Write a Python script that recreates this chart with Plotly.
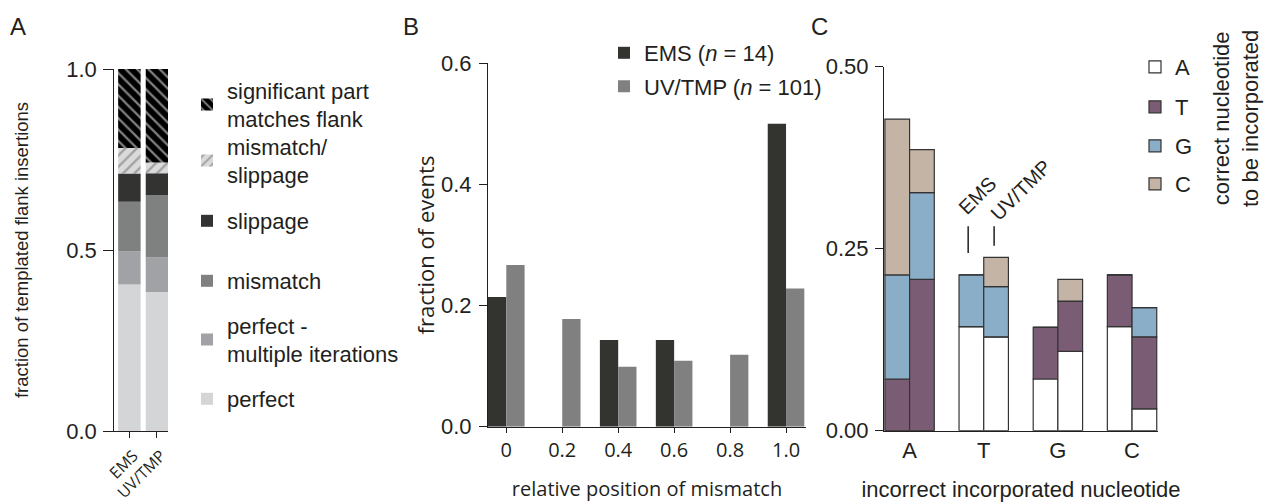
import plotly.graph_objects as go

W, H = 1272, 502


def px(x):
    return x / W


def py(y):
    return 1 - y / H


# ---------------- data ----------------
# Panel A: fraction of templated flank insertions
a_groups = ["EMS", "UV/TMP"]
a_perfect = [0.405, 0.384]
a_perfect_multi = [0.091, 0.095]
a_mismatch = [0.137, 0.173]
a_slippage = [0.078, 0.060]
a_mm_slip = [0.071, 0.030]
a_significant = [0.218, 0.258]

# Panel B: relative position of mismatch
b_positions = [0, 0.2, 0.4, 0.6, 0.8, 1.0]
b_tick_labels = ["0", "0.2", "0.4", "0.6", "0.8", "1.0"]
b_ems = [0.214, 0.0, 0.143, 0.143, 0.0, 0.500]
b_uv = [0.267, 0.178, 0.099, 0.109, 0.119, 0.228]

# Panel C: incorrect incorporated nucleotide (stacked by correct nucleotide)
c_incorrect = ["A", "T", "G", "C"]
c_ems_A = [0.0, 0.143, 0.071, 0.143]
c_ems_T = [0.071, 0.0, 0.071, 0.071]
c_ems_G = [0.143, 0.071, 0.0, 0.0]
c_ems_C = [0.214, 0.0, 0.0, 0.0]
c_uv_A = [0.0, 0.129, 0.109, 0.030]
c_uv_T = [0.208, 0.0, 0.069, 0.099]
c_uv_G = [0.119, 0.069, 0.0, 0.040]
c_uv_C = [0.059, 0.040, 0.030, 0.0]

# ---------------- style ----------------
ARIAL = "Liberation Sans, Arial, sans-serif"
MYRIAD = "Open Sans, sans-serif"
INK = "#231f20"

fig = go.Figure()

# ---------- Panel A ----------
a_series = [
    ("perfect", a_perfect, dict(color="#d3d5d6"), 398),
    ("perfect -<br>multiple iterations", a_perfect_multi, dict(color="#a1a2a6"), 339),
    ("mismatch", a_mismatch, dict(color="#7f8080"), 280),
    ("slippage", a_slippage, dict(color="#333331"), 220),
    ("mismatch/<br>slippage", a_mm_slip,
     dict(color="#dadada", pattern=dict(shape="/", bgcolor="#dadada", fgcolor="#6a6a6a",
                                        size=8, solidity=0.3)), 160),
    ("significant part<br>matches flank", a_significant,
     dict(color="#000000", pattern=dict(shape="\\", bgcolor="#000000", fgcolor="#ffffff",
                                        size=8, solidity=0.28)), 104),
]

legend_layouts = {}
leg_i = 0


def next_legend(text_x, center_y):
    global leg_i
    leg_i += 1
    key = "legend" if leg_i == 1 else f"legend{leg_i}"
    legend_layouts[key] = dict(
        x=px(text_x - 41), y=py(center_y + 1), xanchor="left", yanchor="middle",
        bgcolor="rgba(0,0,0,0)", borderwidth=0,
        font=dict(family=ARIAL, size=22, color=INK),
    )
    return key


base = [0.0, 0.0]
for name, vals, marker, ly in a_series:
    m = dict(marker)
    m["line"] = dict(width=0)
    fig.add_trace(go.Bar(
        x=a_groups, y=vals, base=list(base), name=name, marker=m,
        width=0.815, offset=-0.4075, xaxis="x", yaxis="y",
        legend=next_legend(228, ly), hoverinfo="skip",
    ))
    base = [b + v for b, v in zip(base, vals)]

# ---------- Panel B ----------
b_series = [
    ("EMS (<i>n</i> = 14)", b_ems, "#333330", -0.0654, 52),
    ("UV/TMP (<i>n</i> = 101)", b_uv, "#808080", 0.0, 85.5),
]
for name, vals, color, off, ly in b_series:
    fig.add_trace(go.Bar(
        x=b_positions, y=vals, name=name,
        marker=dict(color=color, line=dict(width=0)),
        width=0.0654, offset=off, xaxis="x2", yaxis="y2",
        legend=next_legend(645, ly), hoverinfo="skip",
    ))

# ---------- Panel C ----------
c_colors = {"A": "#ffffff", "T": "#7a5c75", "G": "#8aaec8", "C": "#c4b4a6"}
c_leg_y = {"A": 66, "T": 106, "G": 145, "C": 183}
c_groups = [
    ("EMS", [("A", c_ems_A), ("T", c_ems_T), ("G", c_ems_G), ("C", c_ems_C)], -0.333),
    ("UV/TMP", [("A", c_uv_A), ("T", c_uv_T), ("G", c_uv_G), ("C", c_uv_C)], 0.0),
]
c_leg_keys = {}
for gname, stacks, off in c_groups:
    base = [0.0] * len(c_incorrect)
    for nuc, vals in stacks:
        if nuc not in c_leg_keys:
            c_leg_keys[nuc] = next_legend(1176, c_leg_y[nuc])
            show = True
        else:
            show = False
        fig.add_trace(go.Bar(
            x=c_incorrect, y=vals, base=list(base), name=nuc,
            marker=dict(color=c_colors[nuc], line=dict(color="#333333", width=1.2)),
            width=0.333, offset=off, xaxis="x3", yaxis="y3",
            legend=c_leg_keys[nuc], legendgroup=nuc, showlegend=show,
            hoverinfo="skip",
        ))
        base = [b + v for b, v in zip(base, vals)]

# ---------------- axes ----------------
axis_common = dict(showgrid=False, zeroline=False, showline=True, linecolor=INK,
                   linewidth=1.2, tickcolor=INK, tickwidth=1.2)

layout = dict(
    width=W, height=H,
    margin=dict(l=0, r=0, t=0, b=0, autoexpand=False),
    paper_bgcolor="white", plot_bgcolor="white",
    barmode="overlay",
    font=dict(family=ARIAL, color=INK),
    xaxis=dict(axis_common, domain=[px(114.3), px(168)], range=[-0.547, 1.40],
               type="category", anchor="y", ticks="outside", ticklen=6,
               tickangle=-45, ticklabelshift=4, ticklabelstandoff=2,
               tickfont=dict(family=MYRIAD, size=16, color=INK)),
    yaxis=dict(axis_common, domain=[py(431), py(69)], range=[0, 1], anchor="x",
               tickvals=[0, 0.5, 1.0], ticktext=["0.0", "0.5", "1.0"],
               ticks="outside", ticklen=10, ticklabelstandoff=2,
               tickfont=dict(family=ARIAL, size=22, color=INK),
               title=dict(text="fraction of templated flank insertions",
                          font=dict(family=ARIAL, size=18.5, color=INK), standoff=32)),
    xaxis2=dict(axis_common, domain=[px(488), px(806)], range=[-0.0654, 1.0714],
                anchor="y2", tickvals=b_positions, ticktext=b_tick_labels,
                ticks="outside", ticklen=5, tickfont=dict(family=MYRIAD, size=20, color=INK),
                title=dict(text="relative position of mismatch",
                           font=dict(family=MYRIAD, size=20, color=INK), standoff=26)),
    yaxis2=dict(axis_common, domain=[py(426.7), py(63.3)], range=[0, 0.6], anchor="x2",
                tickvals=[0, 0.2, 0.4, 0.6], ticktext=["0.0", "0.2", "0.4", "0.6"],
                ticks="outside", ticklen=8, ticklabelstandoff=3,
                tickfont=dict(family=ARIAL, size=22, color=INK),
                title=dict(text="fraction of events",
                           font=dict(family=MYRIAD, size=22, color=INK), standoff=0)),
    xaxis3=dict(axis_common, domain=[px(884), px(1158)], range=[-0.345, 3.35],
                type="category", anchor="y3", ticks="",
                tickfont=dict(family=ARIAL, size=22, color=INK),
                title=dict(text="incorrect incorporated nucleotide",
                           font=dict(family=ARIAL, size=22, color=INK), standoff=25)),
    yaxis3=dict(axis_common, domain=[py(430.7), py(66.7)], range=[0, 0.5], anchor="x3",
                tickvals=[0, 0.25, 0.5], ticktext=["0.00", "0.25", "0.50"],
                ticks="outside", ticklen=8, ticklabelstandoff=2,
                tickfont=dict(family=ARIAL, size=22, color=INK)),
    showlegend=True,
)
layout.update(legend_layouts)

annotations = [
    dict(text="A", x=px(18), y=py(27)),
    dict(text="B", x=px(411), y=py(27)),
    dict(text="C", x=px(819), y=py(27)),
]
annotations = [dict(a, xref="paper", yref="paper", showarrow=False, xanchor="center",
                    yanchor="middle", font=dict(family=ARIAL, size=24, color=INK))
               for a in annotations]
annotations += [
    dict(text="correct nucleotide<br>to be incorporated", x=px(1236), y=py(119),
         xref="paper", yref="paper", showarrow=False, textangle=-90,
         xanchor="center", yanchor="middle", font=dict(family=ARIAL, size=22, color=INK)),
    dict(text="EMS", x=px(977), y=py(196), xref="paper", yref="paper", showarrow=False,
         textangle=-45, xanchor="center", yanchor="middle",
         font=dict(family=ARIAL, size=20, color=INK)),
    dict(text="UV/TMP", x=px(1021), y=py(190), xref="paper", yref="paper", showarrow=False,
         textangle=-45, xanchor="center", yanchor="middle",
         font=dict(family=ARIAL, size=20, color=INK)),
]
layout["annotations"] = annotations
layout["shapes"] = [
    dict(type="line", xref="x3", yref="y3", x0=0.79, x1=0.79, y0=0.281, y1=0.244,
         line=dict(color=INK, width=1.5)),
    dict(type="line", xref="x3", yref="y3", x0=1.14, x1=1.14, y0=0.281, y1=0.254,
         line=dict(color=INK, width=1.5)),
]

fig.update_layout(layout)
fig.write_html(
    "out.html",
    config={"displayModeBar": False},
    post_script="document.body.style.margin='0';document.body.style.overflow='hidden';",
)
